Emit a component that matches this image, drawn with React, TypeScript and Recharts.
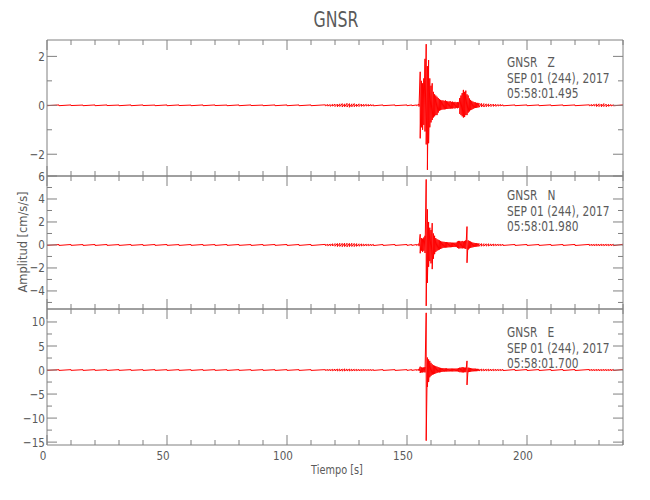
import { LineChart, Line, XAxis, YAxis } from "recharts"

// sample times [s]: coarse where the trace is quiet, finer around the arrivals
const times = [
  0, 5, 10, 15, 20, 25, 30, 35, 40, 45, 50, 55, 60, 65, 70, 75, 80, 85, 90, 95,
  100, 105, 110,
  116, 117, 118, 119, 120, 121, 122, 123, 124, 125, 126, 127, 128, 129, 130,
  131, 132, 133, 134, 135, 136,
  140, 145, 150,
  152, 154,
  155, 155.5, 156, 156.5, 157, 157.5, 158, 158.5, 159, 159.5,
  160, 160.5, 161, 161.5, 162, 162.5, 163, 163.5, 164, 164.5,
  165, 165.5, 166, 166.5, 167, 167.5, 168, 168.5, 169, 169.5,
  170, 170.5, 171, 171.5, 172, 172.5, 173, 173.5, 174, 174.5,
  175, 175.5, 176, 176.5, 177, 177.5, 178, 178.5, 179, 179.5,
  180,
  181, 182, 183, 184, 185, 186, 187, 188, 189, 190,
  195, 200, 205, 210, 215, 220,
  226, 227, 228, 229, 230, 231, 232, 233, 234, 235, 236,
  240,
]

// upper / lower envelope of each component
const zHi = [
  0.02, 0.015, 0.015, 0.01, 0.015, 0.015, 0.01, 0.015, 0.015, 0.01,
  0.015, 0.015, 0.01, 0.015, 0.015, 0.01, 0.015, 0.015, 0.01, 0.015,
  0.015, 0.015, 0.015,
  0.02, 0.03, 0.03, 0.04, 0.05, 0.05, 0.06, 0.07, 0.06, 0.08,
  0.07, 0.06, 0.07, 0.05, 0.06, 0.05, 0.04, 0.04, 0.03, 0.03, 0.02,
  0.015, 0.015, 0.015,
  0.015, 0.015,
  0.05, 1.37, 1.0, 0.9, 1.1, 1.9, 2.5, 1.6, 1.85, 1.1,
  0.8, 0.9, 0.55, 0.45, 0.4, 0.35, 0.3, 0.25, 0.22, 0.2,
  0.2, 0.18, 0.2, 0.17, 0.16, 0.15, 0.17, 0.14, 0.15, 0.13,
  0.14, 0.12, 0.13, 0.12, 0.3, 0.4, 0.5, 0.63, 0.55, 0.6,
  0.45, 0.4, 0.28, 0.22, 0.18, 0.15, 0.13, 0.12, 0.1, 0.1,
  0.09,
  0.08, 0.07, 0.06, 0.06, 0.05, 0.05, 0.04, 0.03, 0.03, 0.02,
  0.015, 0.015, 0.015, 0.015, 0.015, 0.015,
  0.02, 0.03, 0.04, 0.05, 0.06, 0.05, 0.07, 0.05, 0.04, 0.03, 0.02,
  0.015,
]
const zLo = [
  -0.015, -0.015, -0.01, -0.015, -0.015, -0.01, -0.015, -0.015, -0.01, -0.015,
  -0.015, -0.01, -0.015, -0.015, -0.01, -0.015, -0.015, -0.01, -0.015, -0.015,
  -0.015, -0.015, -0.015,
  -0.02, -0.03, -0.04, -0.03, -0.05, -0.06, -0.05, -0.07, -0.06, -0.07,
  -0.08, -0.06, -0.06, -0.05, -0.05, -0.04, -0.04, -0.03, -0.03, -0.02, -0.02,
  -0.015, -0.015, -0.015,
  -0.015, -0.015,
  -0.05, -1.35, -0.9, -1.0, -0.8, -1.07, -1.6, -2.64, -1.55, -0.9,
  -0.7, -0.6, -0.5, -0.45, -0.4, -0.4, -0.3, -0.22, -0.2, -0.18,
  -0.17, -0.17, -0.16, -0.15, -0.15, -0.14, -0.14, -0.13, -0.13, -0.12,
  -0.13, -0.11, -0.12, -0.1, -0.35, -0.4, -0.45, -0.5, -0.48, -0.4,
  -0.4, -0.3, -0.25, -0.2, -0.18, -0.15, -0.12, -0.11, -0.1, -0.09,
  -0.08,
  -0.07, -0.07, -0.06, -0.05, -0.05, -0.04, -0.04, -0.03, -0.02, -0.02,
  -0.015, -0.015, -0.015, -0.015, -0.015, -0.015,
  -0.02, -0.03, -0.03, -0.05, -0.05, -0.06, -0.05, -0.06, -0.04, -0.03, -0.02,
  -0.015,
]

const nHi = [
  0.04, 0.035, 0.04, 0.035, 0.04, 0.04, 0.035, 0.04, 0.035, 0.04,
  0.04, 0.035, 0.04, 0.04, 0.035, 0.04, 0.04, 0.035, 0.04, 0.04,
  0.04, 0.04, 0.045,
  0.05, 0.06, 0.08, 0.1, 0.12, 0.13, 0.15, 0.14, 0.16, 0.15,
  0.14, 0.15, 0.13, 0.12, 0.1, 0.09, 0.08, 0.07, 0.06, 0.05, 0.05,
  0.04, 0.04, 0.04,
  0.04, 0.04,
  0.1, 0.93, 0.6, 0.55, 0.65, 0.8, 5.7, 3.1, 2.0, 1.5,
  1.3, 1.9, 1.0, 0.8, 0.6, 0.5, 0.45, 0.4, 0.35, 0.3,
  0.28, 0.27, 0.25, 0.25, 0.24, 0.22, 0.22, 0.2, 0.2, 0.2,
  0.2, 0.2, 0.3, 0.35, 0.35, 0.3, 0.35, 0.3, 0.35, 0.4,
  1.6, 0.4, 0.35, 0.3, 0.25, 0.2, 0.18, 0.16, 0.15, 0.14,
  0.13,
  0.12, 0.11, 0.1, 0.1, 0.09, 0.08, 0.07, 0.06, 0.05, 0.05,
  0.04, 0.04, 0.04, 0.04, 0.04, 0.045,
  0.05, 0.05, 0.05, 0.06, 0.05, 0.06, 0.05, 0.06, 0.05, 0.06, 0.06,
  0.06,
]
const nLo = [
  -0.035, -0.04, -0.035, -0.04, -0.04, -0.035, -0.04, -0.035, -0.04, -0.035,
  -0.035, -0.04, -0.035, -0.035, -0.04, -0.035, -0.035, -0.04, -0.035, -0.035,
  -0.04, -0.04, -0.045,
  -0.05, -0.07, -0.08, -0.09, -0.11, -0.14, -0.13, -0.15, -0.14, -0.16,
  -0.14, -0.13, -0.14, -0.12, -0.11, -0.09, -0.08, -0.07, -0.06, -0.05, -0.05,
  -0.04, -0.04, -0.04,
  -0.04, -0.04,
  -0.1, -0.72, -0.5, -0.6, -0.5, -0.7, -5.3, -3.3, -1.9, -1.4,
  -1.6, -2.1, -1.2, -0.8, -0.6, -0.5, -0.45, -0.4, -0.35, -0.3,
  -0.25, -0.24, -0.23, -0.22, -0.21, -0.2, -0.2, -0.19, -0.18, -0.18,
  -0.18, -0.18, -0.25, -0.3, -0.3, -0.28, -0.3, -0.28, -0.3, -0.35,
  -1.55, -0.4, -0.3, -0.25, -0.22, -0.2, -0.17, -0.15, -0.14, -0.13,
  -0.12,
  -0.11, -0.1, -0.1, -0.09, -0.08, -0.07, -0.06, -0.05, -0.05, -0.04,
  -0.04, -0.04, -0.04, -0.04, -0.04, -0.045,
  -0.05, -0.05, -0.06, -0.05, -0.06, -0.05, -0.06, -0.05, -0.06, -0.05, -0.06,
  -0.06,
]

const eHi = [
  0.08, 0.07, 0.08, 0.07, 0.08, 0.07, 0.08, 0.08, 0.07, 0.08,
  0.07, 0.08, 0.07, 0.08, 0.08, 0.07, 0.08, 0.07, 0.08, 0.07,
  0.08, 0.08, 0.08,
  0.08, 0.1, 0.12, 0.15, 0.18, 0.2, 0.22, 0.2, 0.24, 0.22,
  0.2, 0.18, 0.16, 0.14, 0.12, 0.1, 0.1, 0.09, 0.08, 0.08, 0.08,
  0.08, 0.08, 0.08,
  0.08, 0.08,
  0.2, 0.7, 0.55, 0.5, 0.55, 0.6, 11.9, 2.6, 2.2, 1.9,
  1.5, 1.2, 1.0, 0.9, 0.8, 0.7, 0.6, 0.5, 0.45, 0.4,
  0.4, 0.35, 0.35, 0.35, 0.3, 0.3, 0.3, 0.3, 0.3, 0.3,
  0.3, 0.3, 0.3, 0.4, 0.5, 0.5, 0.6, 0.55, 0.5, 0.5,
  1.9, 0.5, 0.45, 0.4, 0.35, 0.3, 0.3, 0.28, 0.25, 0.25,
  0.22,
  0.2, 0.2, 0.18, 0.18, 0.16, 0.15, 0.14, 0.13, 0.12, 0.12,
  0.1, 0.1, 0.1, 0.1, 0.1, 0.1,
  0.11, 0.12, 0.11, 0.12, 0.12, 0.11, 0.12, 0.12, 0.11, 0.12, 0.12,
  0.12,
]
const eLo = [
  -0.07, -0.08, -0.07, -0.08, -0.07, -0.08, -0.07, -0.07, -0.08, -0.07,
  -0.08, -0.07, -0.08, -0.07, -0.07, -0.08, -0.07, -0.08, -0.07, -0.08,
  -0.07, -0.08, -0.08,
  -0.09, -0.1, -0.13, -0.15, -0.17, -0.2, -0.21, -0.22, -0.2, -0.2,
  -0.19, -0.17, -0.15, -0.13, -0.12, -0.1, -0.09, -0.08, -0.08, -0.08, -0.08,
  -0.08, -0.08, -0.08,
  -0.08, -0.08,
  -0.2, -0.6, -0.5, -0.5, -0.45, -0.5, -14.7, -3.5, -2.5, -1.5,
  -1.2, -1.0, -0.9, -0.8, -0.7, -0.6, -0.5, -0.5, -0.45, -0.4,
  -0.35, -0.35, -0.3, -0.3, -0.3, -0.3, -0.28, -0.28, -0.28, -0.28,
  -0.28, -0.28, -0.28, -0.35, -0.45, -0.45, -0.5, -0.5, -0.45, -0.45,
  -3.1, -0.45, -0.4, -0.35, -0.3, -0.28, -0.26, -0.25, -0.24, -0.22,
  -0.2,
  -0.18, -0.18, -0.17, -0.16, -0.15, -0.14, -0.13, -0.12, -0.11, -0.11,
  -0.1, -0.1, -0.1, -0.1, -0.1, -0.1,
  -0.11, -0.11, -0.12, -0.11, -0.12, -0.12, -0.11, -0.12, -0.11, -0.12, -0.11,
  -0.11,
]

const xTicks = [
  0, 10, 20, 30, 40, 50, 60, 70, 80, 90, 100, 110, 120,
  130, 140, 150, 160, 170, 180, 190, 200, 210, 220, 230, 240,
]
const xLabels = [0, 50, 100, 150, 200]

const zTicks = [-2, -1, 0, 1, 2]
const zLabels = [-2, 0, 2]
const nTicks = [-5, -4, -3, -2, -1, 0, 1, 2, 3, 4, 5, 6]
const nLabels = [-4, -2, 0, 2, 4, 6]
const eTicks = [-15, -12.5, -10, -7.5, -5, -2.5, 0, 2.5, 5, 7.5, 10]
const eLabels = [-15, -10, -5, 0, 5, 10]

const AXIS = "#808080"
const TEXT = "#5a5a5a"
const RED = "#ff0000"
const FONT = "'DejaVu Sans', sans-serif"

function trace(hi: number[], lo: number[]) {
  const out: { t: number; v: number }[] = []
  times.forEach((t, i) => {
    out.push({ t, v: hi[i] })
    out.push({ t, v: lo[i] })
  })
  return out
}

const fmt = (v: number) => (v < 0 ? "\u2212" + Math.abs(v) : String(v))

// narrow text, the original uses a thin vector font
function Txt({ x, y, size, anchor = "start", rotate = 0, sx = 0.8, children }: any) {
  return (
    <text
      transform={`translate(${x},${y}) rotate(${rotate}) scale(${sx},1)`}
      textAnchor={anchor}
      fontSize={size}
      fill={TEXT}
      fontFamily={FONT}
      style={{ whiteSpace: "pre" }}
    >
      {children}
    </text>
  )
}

const panels = [
  {
    id: "Z", hi: zHi, lo: zLo, domain: [-2.89, 2.67], ticks: zTicks, labels: zLabels,
    top: 40, bottom: 176, info: ["GNSR   Z", "SEP 01 (244), 2017", "05:58:01.495"], infoY: 62,
  },
  {
    id: "N", hi: nHi, lo: nLo, domain: [-5.57, 6], ticks: nTicks, labels: nLabels,
    top: 176, bottom: 309, info: ["GNSR   N", "SEP 01 (244), 2017", "05:58:01.980"], infoY: 195,
  },
  {
    id: "E", hi: eHi, lo: eLo, domain: [-15.6, 12.7], ticks: eTicks, labels: eLabels,
    top: 309, bottom: 445, info: ["GNSR   E", "SEP 01 (244), 2017", "05:58:01.700"], infoY: 332,
  },
]

const W = 650
const H = 500
const LEFT = 47
const RIGHT = 623

function Panel({ p, last }: { p: (typeof panels)[number]; last: boolean }) {
  const yTick = (side: "left" | "right") => (props: any) => {
    const { x, y, payload } = props
    const major = p.labels.includes(payload.value)
    const len = major ? 10 : 5
    const dir = side === "left" ? 1 : -1
    return (
      <g>
        <line x1={x} x2={x + dir * len} y1={y} y2={y} stroke={AXIS} />
        {side === "left" && major && (
          <Txt x={x - 2} y={y + 4.5} size={13} anchor="end">
            {fmt(payload.value)}
          </Txt>
        )}
      </g>
    )
  }
  const xTick = (side: "top" | "bottom") => (props: any) => {
    const { x, y, payload } = props
    const major = payload.value % 50 === 0
    const len = major ? 10 : 5
    const dir = side === "bottom" ? -1 : 1
    return (
      <g>
        <line x1={x} x2={x} y1={y} y2={y + dir * len} stroke={AXIS} />
        {side === "bottom" && last && xLabels.includes(payload.value) && (
          <Txt x={x - 4} y={y + 15} size={13} anchor="middle">
            {payload.value}
          </Txt>
        )}
      </g>
    )
  }
  return (
    <div style={{ position: "absolute", left: 0, top: 0 }}>
      <LineChart
        width={W}
        height={H}
        data={trace(p.hi, p.lo)}
        margin={{ top: p.top - 1, bottom: H - p.bottom - 1, left: LEFT - 1, right: W - RIGHT - 1 }}
      >
        <XAxis xAxisId="b" dataKey="t" type="number" domain={[0, 240]} ticks={xTicks} allowDataOverflow
          orientation="bottom" height={1} tickSize={0} tickMargin={0} tickLine={false}
          axisLine={{ stroke: AXIS }} tick={xTick("bottom")} interval={0} />
        <XAxis xAxisId="t" dataKey="t" type="number" domain={[0, 240]} ticks={xTicks} allowDataOverflow
          orientation="top" height={1} tickSize={0} tickMargin={0} tickLine={false}
          axisLine={{ stroke: AXIS }} tick={xTick("top")} interval={0} />
        <YAxis yAxisId="l" type="number" domain={p.domain} ticks={p.ticks} allowDataOverflow
          orientation="left" width={1} tickSize={0} tickMargin={0} tickLine={false}
          axisLine={{ stroke: AXIS }} tick={yTick("left")} interval={0} />
        <YAxis yAxisId="r" type="number" domain={p.domain} ticks={p.ticks} allowDataOverflow
          orientation="right" width={1} tickSize={0} tickMargin={0} tickLine={false}
          axisLine={{ stroke: AXIS }} tick={yTick("right")} interval={0} />
        <Line xAxisId="b" yAxisId="l" type="linear" dataKey="v" stroke={RED} strokeWidth={1}
          dot={false} activeDot={false} isAnimationActive={false} />
      </LineChart>
    </div>
  )
}

export default function App() {
  return (
    <div style={{ position: "absolute", left: 0, top: 0, width: W, height: H, background: "#fff" }}>
      {panels.map((p, i) => (
        <Panel key={p.id} p={p} last={i === panels.length - 1} />
      ))}
      <svg width={W} height={H} style={{ position: "absolute", left: 0, top: 0, pointerEvents: "none" }}>
        <Txt x={336} y={27} size={21} anchor="middle" sx={0.75}>GNSR</Txt>
        <Txt x={337} y={474} size={13} anchor="middle" sx={0.75}>Tiempo [s]</Txt>
        <Txt x={27} y={242} size={13} anchor="middle" rotate={-90} sx={0.88}>Amplitud [cm/s/s]</Txt>
        {panels.map((p) =>
          p.info.map((line, j) => (
            <Txt key={p.id + j} x={507} y={p.infoY + 5 + j * 15.5} size={14} sx={0.76}>
              {line}
            </Txt>
          ))
        )}
      </svg>
    </div>
  )
}
